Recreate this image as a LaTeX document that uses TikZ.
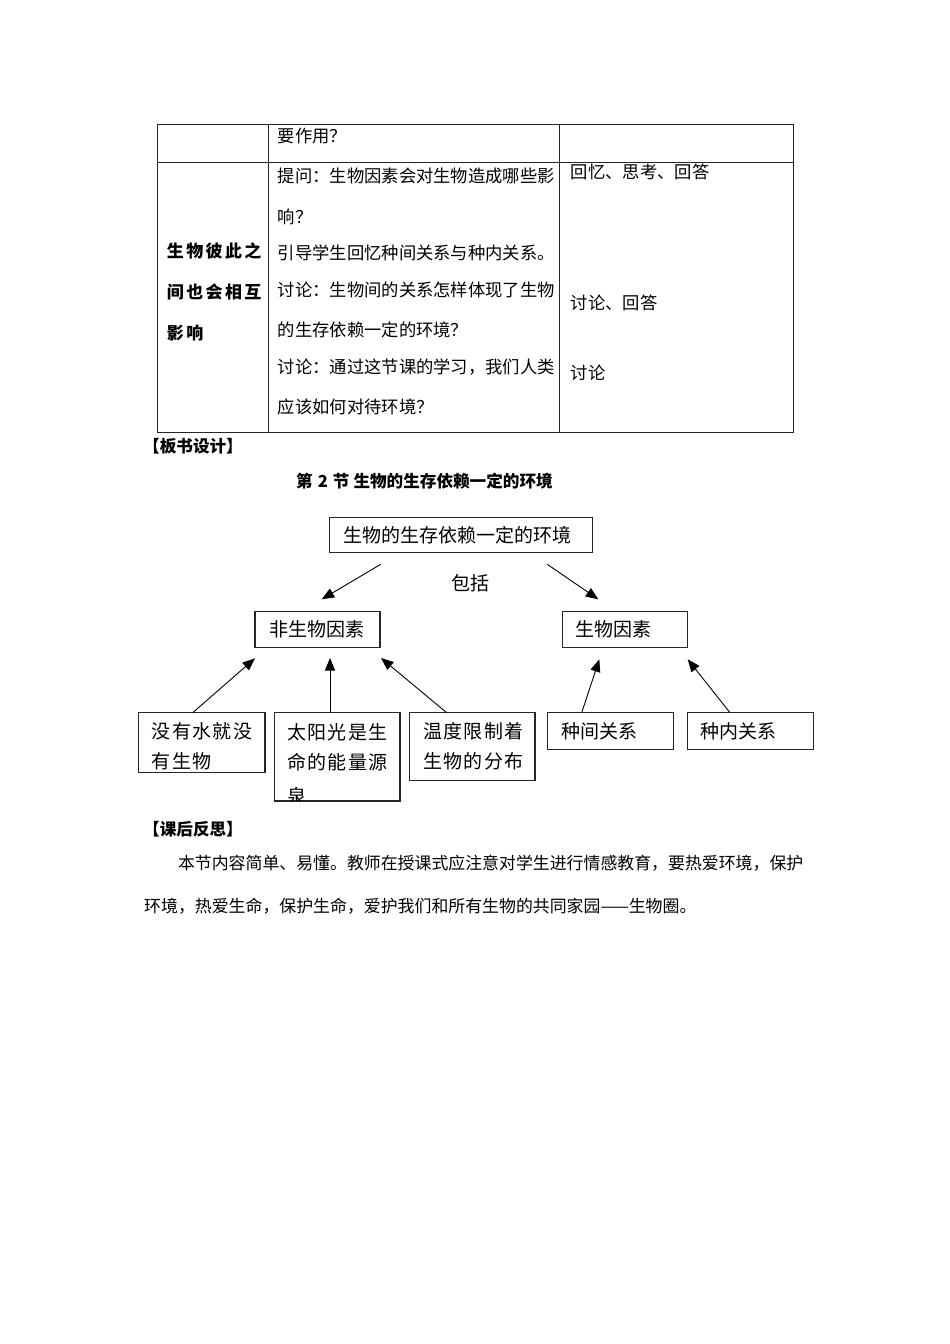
\documentclass[tikz,border=0pt]{standalone}
\usepackage{fontspec}
\setmainfont{Noto Sans CJK SC}
\usetikzlibrary{arrows.meta}
\begin{document}
\begin{tikzpicture}[x=1pt,y=-1pt,
  tline/.style={line width=0.9pt, draw=black!85},
  body/.style={anchor=west, inner sep=0pt, font=\fontsize{17.3}{20}\selectfont},
  head/.style={anchor=west, inner sep=0pt, font=\fontsize{16.6}{20}\selectfont\bfseries},
  lefthead/.style={anchor=west, inner sep=0pt, font=\fontsize{17}{20}\selectfont\bfseries\addfontfeature{LetterSpace=14}},
  para/.style={anchor=west, inner sep=0pt, font=\fontsize{16.9}{20}\selectfont},
  box/.style={draw=black!85, line width=1.2pt, anchor=north west, outer sep=0pt,
    inner ysep=0pt, align=left, font=\fontsize{19}{30}\selectfont},
  spaced/.style={font=\fontsize{19}{30}\selectfont\addfontfeature{LetterSpace=7}},
  arr/.style={line width=0.9pt, draw=black, -{Triangle[length=12.5pt,width=10pt]}},
  lbl/.style={inner sep=0pt, font=\fontsize{19}{22}\selectfont}
]
\path[use as bounding box] (0,0) rectangle (950,1344);
\fill[white] (0,0) rectangle (950,1344);

% ---------------- table ----------------
\draw[tline] (157,124.3) rectangle (793.3,432);
\draw[tline] (157,162.3) -- (793.3,162.3);
\draw[tline] (268.5,124.3) -- (268.5,432);
\draw[tline] (559.5,124.3) -- (559.5,432);

\node[body] (r1) at (277.7,136) {要作用？};
\node[body] (t1) at (277.7,176) {提问：生物因素会对生物造成哪些影};
\node[body] (t2) at (277.7,217) {响？};
\node[body] (t3) at (277.7,253) {引导学生回忆种间关系与种内关系。};
\node[body] (t4) at (277.7,290) {讨论：生物间的关系怎样体现了生物};
\node[body] (t5) at (277.7,330) {的生存依赖一定的环境？};
\node[body] (t6) at (277.7,367) {讨论：通过这节课的学习，我们人类};
\node[body] (t7) at (277.7,406.5) {应该如何对待环境？};

\node[body] (s1) at (570.7,172) {回忆、思考、回答};
\node[body] (s2) at (570.7,303) {讨论、回答};
\node[body] (s3) at (570.7,373) {讨论};

\node[lefthead] (h1) at (166.7,251) {生物彼此之};
\node[lefthead] (h2) at (166.7,292) {间也会相互};
\node[lefthead] (h3) at (166.7,333) {影响};

% ---------------- headings ----------------
\node[head] (bsheji) at (143,446) {【板书设计】};
\node[head] (title) at (296,481) {第\hspace{5pt}2\hspace{5pt}节\hspace{4pt}生物的生存依赖一定的环境};

% ---------------- diagram ----------------
\node[box, minimum width=263.4, minimum height=35.4, inner xsep=14, text width=235.4] (top) at (329.3,517.3) {生物的生存依赖一定的环境};
\node[box, minimum width=125, minimum height=35.6, inner xsep=14, text width=97] (abio) at (255,611.7) {非生物因素};
\node[box, minimum width=125.4, minimum height=35.6, inner xsep=12.7, text width=100] (bio) at (562.3,611.7) {生物因素};

\node[box, spaced, minimum width=126.7, minimum height=60, inner xsep=13.4, text width=99.9] (b1) at (138.3,712.7) {\rule{0pt}{23pt}没有水就没\\有生物};
\node[box, minimum width=125.7, minimum height=88.3, inner xsep=0, text width=125.7] (b2) at (274.3,712.7) {};
\begin{scope}
  \clip (274.3,712.7) rectangle (400,800.4);
  \node[spaced, anchor=north west, inner sep=0pt, align=left] (b2t) at (287,723) {太阳光是生\\命的能量源\\[4pt]泉};
\end{scope}
\node[box, spaced, minimum width=125.7, minimum height=68, inner xsep=14, text width=97.7] (b3) at (409.3,712.7) {温度限制着\\生物的分布};
\node[box, minimum width=125.6, minimum height=36.6, inner xsep=13.3, text width=99] (b4) at (547.7,712.7) {种间关系};
\node[box, minimum width=126, minimum height=36.6, inner xsep=13.4, text width=99.2] (b5) at (687.3,712.7) {种内关系};

\node[lbl] (incl) at (470,583.3) {包括};

\coordinate (c1s) at (380.7,564.3);
\coordinate (c1e) at (321.7,599.3);
\coordinate (c2s) at (547.3,564.3);
\coordinate (c2e) at (598.3,599.3);
\coordinate (c3s) at (192.7,712.7);
\coordinate (c3e) at (255,658.3);
\coordinate (c4s) at (330,712.7);
\coordinate (c4e) at (330,658);
\coordinate (c5s) at (446.7,712.7);
\coordinate (c5e) at (381,658);
\coordinate (c6s) at (581.7,712.7);
\coordinate (c6e) at (599.3,659.3);
\coordinate (c7s) at (730,712.7);
\coordinate (c7e) at (687.7,659.3);

\draw[arr] (c1s) -- (c1e);
\draw[arr] (c2s) -- (c2e);
\draw[arr] (c3s) -- (c3e);
\draw[arr] (c4s) -- (c4e);
\draw[arr] (c5s) -- (c5e);
\draw[arr] (c6s) -- (c6e);
\draw[arr] (c7s) -- (c7e);

% ---------------- reflection ----------------
\node[head] (fansi) at (143,829) {【课后反思】};
\node[para] (p1) at (177.8,863) {本节内容简单、易懂。教师在授课式应注意对学生进行情感教育，要热爱环境，保护};
\node[para] (p2) at (144,906) {环境，热爱生命，保护生命，爱护我们和所有生物的共同家园——生物圈。};
\end{tikzpicture}
\end{document}
